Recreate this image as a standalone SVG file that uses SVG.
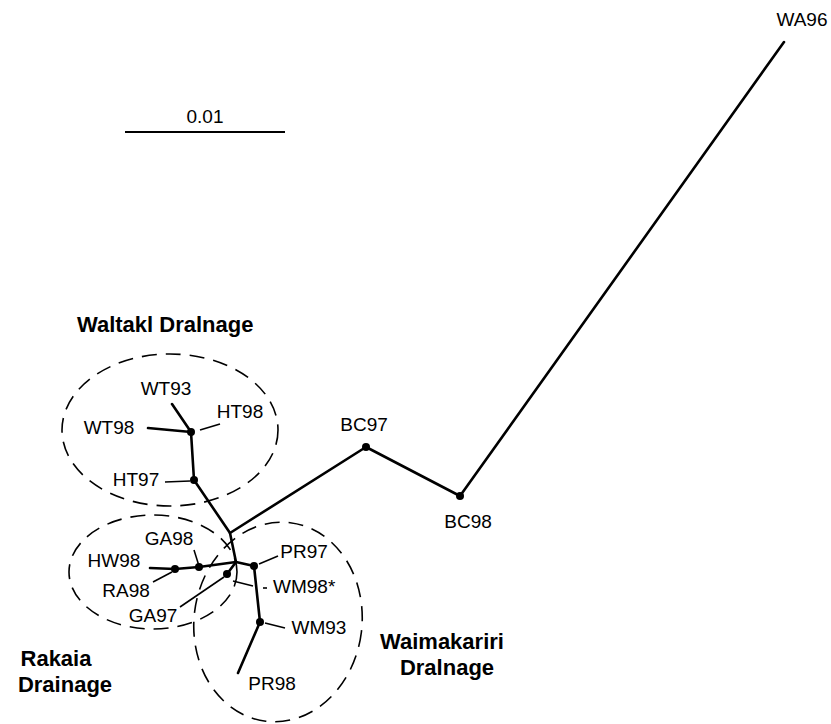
<svg xmlns="http://www.w3.org/2000/svg" width="831" height="724" viewBox="0 0 831 724">
<style>
.lbl{font-family:"Liberation Sans",Arial,sans-serif;font-size:19px;fill:#000}
.hd{font-family:"Liberation Sans",Arial,sans-serif;font-size:22px;font-weight:bold;fill:#000}
.thick{stroke:#000;stroke-width:2.6;fill:none;stroke-linecap:round;stroke-linejoin:round}
.thin{stroke:#000;stroke-width:1.6;fill:none}
.ell{stroke:#000;stroke-width:1.6;fill:none;stroke-dasharray:15 9}
.dot{fill:#000}
</style>
<rect width="831" height="724" fill="#fff"/>
<g id="scale">
<line x1="125" y1="132" x2="285" y2="132" stroke="#000" stroke-width="2.2"/>
<text class="lbl" x="205" y="123" text-anchor="middle">0.01</text>
</g>
<g id="groups">
<ellipse id="waitaki-ellipse" class="ell" cx="170" cy="430" rx="108" ry="76"/>
<ellipse id="rakaia-ellipse" class="ell" cx="153" cy="572" rx="84" ry="57"/>
<ellipse id="waimakariri-ellipse" class="ell" cx="278" cy="622" rx="84" ry="100" transform="rotate(7 278 622)"/>
<text id="waitaki-title" class="hd" x="77" y="332">Waltakl Dralnage</text>
<g id="rakaia-title"><text class="hd" x="56" y="666" text-anchor="middle">Rakaia</text><text class="hd" x="65" y="692" text-anchor="middle">Drainage</text></g>
<g id="waimakariri-title"><text class="hd" x="442" y="649" text-anchor="middle">Waimakariri</text><text class="hd" x="447" y="675" text-anchor="middle">Dralnage</text></g>
</g>
<g id="connectors">
<polyline class="thick" points="172,404 191,432 194,480 230,533 236,562"/>
<line class="thick" x1="148" y1="428" x2="191" y2="432"/>
<polyline class="thick" points="230,533 366,447 460,496 784,42"/>
<polyline class="thick" points="236,562 199,567 175,569 150,568"/>
<line class="thick" x1="236" y1="562" x2="227" y2="574"/>
<polyline class="thick" points="236,562 254,566 260,622 238,673"/>
<line class="thin" x1="200" y1="430" x2="220" y2="424"/>
<line class="thin" x1="165" y1="482" x2="190" y2="481"/>
<line class="thin" x1="194" y1="550" x2="199" y2="566"/>
<line class="thin" x1="153" y1="582" x2="172" y2="572"/>
<line class="thin" x1="180" y1="607" x2="224" y2="577"/>
<line class="thin" x1="259" y1="564" x2="278" y2="556"/>
<line class="thin" x1="233" y1="581" x2="253" y2="586"/>
<line class="thin" x1="263" y1="588" x2="267" y2="588"/>
<line class="thin" x1="265" y1="623" x2="285" y2="628"/>
</g>
<g id="WA96"><text class="lbl" x="802" y="26" text-anchor="middle">WA96</text></g>
<g id="BC97"><circle class="dot" cx="366" cy="447" r="4"/><text class="lbl" x="364" y="431" text-anchor="middle">BC97</text></g>
<g id="BC98"><circle class="dot" cx="460" cy="496" r="4"/><text class="lbl" x="468" y="528" text-anchor="middle">BC98</text></g>
<g id="WT93"><text class="lbl" x="166" y="395" text-anchor="middle">WT93</text></g>
<g id="WT98"><circle class="dot" cx="191" cy="432" r="4"/><text class="lbl" x="109" y="434" text-anchor="middle">WT98</text></g>
<g id="HT98"><text class="lbl" x="240" y="418" text-anchor="middle">HT98</text></g>
<g id="HT97"><circle class="dot" cx="194" cy="480" r="4"/><text class="lbl" x="136" y="486" text-anchor="middle">HT97</text></g>
<g id="GA98"><circle class="dot" cx="199" cy="567" r="4"/><text class="lbl" x="169" y="545" text-anchor="middle">GA98</text></g>
<g id="HW98"><circle class="dot" cx="175" cy="569" r="4"/><text class="lbl" x="114" y="567" text-anchor="middle">HW98</text></g>
<g id="RA98"><text class="lbl" x="126" y="597" text-anchor="middle">RA98</text></g>
<g id="GA97"><circle class="dot" cx="227" cy="574" r="4"/><text class="lbl" x="153" y="622" text-anchor="middle">GA97</text></g>
<g id="PR97"><circle class="dot" cx="254" cy="566" r="4"/><text class="lbl" x="304" y="558" text-anchor="middle">PR97</text></g>
<g id="WM98"><text class="lbl" x="273" y="593">WM98*</text></g>
<g id="WM93"><circle class="dot" cx="260" cy="622" r="4"/><text class="lbl" x="319" y="634" text-anchor="middle">WM93</text></g>
<g id="PR98"><text class="lbl" x="272" y="690" text-anchor="middle">PR98</text></g>
</svg>
